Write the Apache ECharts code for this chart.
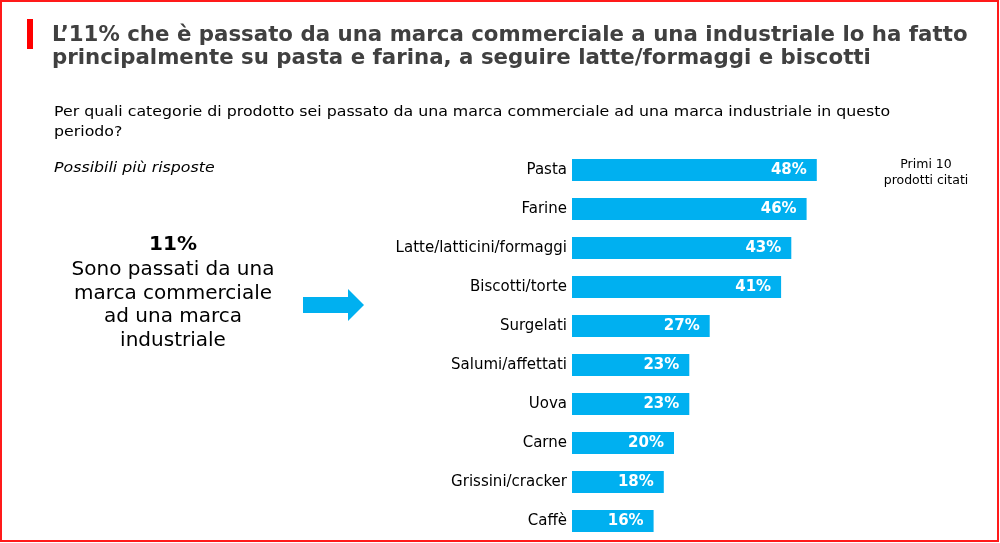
<!DOCTYPE html>
<html>
<head>
<meta charset="utf-8">
<script src="https://cdn.jsdelivr.net/npm/echarts@6/dist/echarts.min.js"></script>
<style>
html,body{margin:0;padding:0;background:#fff;}
#chart{width:1000px;height:543px;}
</style>
</head>
<body>
<div id="chart"></div>
<script>
const categories = ['Pasta','Farine','Latte/latticini/formaggi','Biscotti/torte','Surgelati','Salumi/affettati','Uova','Carne','Grissini/cracker','Caffè'];
const values = [48,46,43,41,27,23,23,20,18,16];
const titleLines = ['L’11% che è passato da una marca commerciale a una industriale lo ha fatto','principalmente su pasta e farina, a seguire latte/formaggi e biscotti'];
const questionLines = ['Per quali categorie di prodotto sei passato da una marca commerciale ad una marca industriale in questo','periodo?'];
const noteText = 'Possibili più risposte';
const highlightValue = '11%';
const highlightLines = ['Sono passati da una','marca commerciale','ad una marca','industriale'];
const sideNote = ['Primi 10','prodotti citati'];

const chart = echarts.init(document.getElementById('chart'), null, {renderer:'canvas'});
const FONT = '"DejaVu Sans", Verdana, sans-serif';
chart.setOption({
  animation:false,
  backgroundColor:'#fff',
  grid:{left:572, top:150.5, width:306, height:390},
  xAxis:{type:'value', min:0, max:60, show:false},
  yAxis:{type:'category', data:categories, inverse:true,
    axisLine:{show:false}, axisTick:{show:false}, splitLine:{show:false},
    axisLabel:{color:'#000', fontSize:15, fontFamily:FONT, margin:5}},
  series:[{type:'bar', data:values, barWidth:22, itemStyle:{color:'#00b0f0'},
    label:{show:true, position:'insideRight', distance:10, formatter:'{c}%', color:'#fff', fontWeight:'bold', fontSize:15, fontFamily:FONT}}],
  graphic:[
    {type:'rect', shape:{x:1,y:1,width:997,height:540}, style:{fill:'none', stroke:'#ff1a1a', lineWidth:2}, silent:true},
    {type:'rect', shape:{x:27,y:19,width:6,height:30}, style:{fill:'#ff0000'}},
    {type:'text', x:52, y:24, scaleX:1.015, style:{text:titleLines.join('\n'), font:'bold 21px "DejaVu Sans", sans-serif', fill:'#404040', lineHeight:23, textVerticalAlign:'top'}},
    {type:'text', x:54, y:102, scaleX:1.17, style:{text:questionLines.join('\n'), font:'13.5px '+FONT, fill:'#000', lineHeight:20, textVerticalAlign:'top'}},
    {type:'text', x:54, y:158, scaleX:1.17, style:{text:noteText, font:'italic 13.5px '+FONT, fill:'#000', lineHeight:20, textVerticalAlign:'top'}},
    {type:'text', x:173, y:245, style:{text:highlightValue, font:'bold 20px '+FONT, fill:'#000', align:'center', verticalAlign:'middle'}},
    {type:'text', x:173, y:258, style:{text:highlightLines.join('\n'), font:'20px '+FONT, fill:'#000', align:'center', lineHeight:23.7, textVerticalAlign:'top'}},
    {type:'polygon', shape:{points:[[303,297],[348,297],[348,289],[364,305],[348,321],[348,313],[303,313]]}, style:{fill:'#00b0f0'}},
    {type:'text', x:926, y:157, style:{text:sideNote.join('\n'), font:'12.5px '+FONT, fill:'#000', align:'center', lineHeight:16, textVerticalAlign:'top'}}
  ]
});
</script>
</body>
</html>
